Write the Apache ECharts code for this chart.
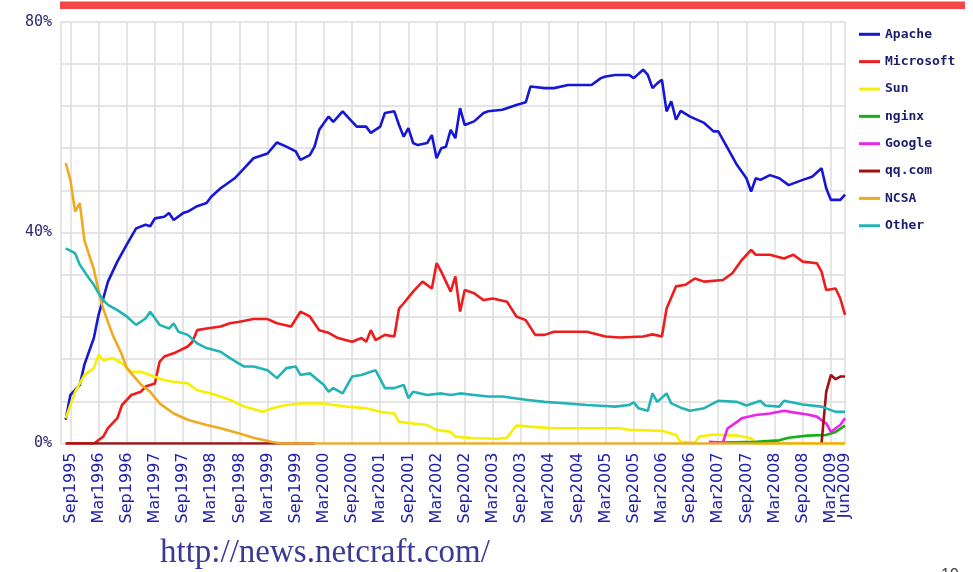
<!DOCTYPE html>
<html><head><meta charset="utf-8">
<script src="https://cdn.jsdelivr.net/npm/echarts@6/dist/echarts.min.js"></script>
<style>html,body{margin:0;padding:0;background:#fff}#c{width:973px;height:572px}</style>
</head><body><div id="c"></div>
<script>
// Months Jul1995 .. Jun2009 (index 0 .. 167)
const monthNames = ['Jan','Feb','Mar','Apr','May','Jun','Jul','Aug','Sep','Oct','Nov','Dec'];
const months = [];
for (let y = 1995; y <= 2009; y++) for (let m = 0; m < 12; m++) {
  if ((y === 1995 && m < 6) || (y === 2009 && m > 5)) continue;
  months.push(monthNames[m] + y);
}
const yTickLabels = {0: '0%', 40: '40%', 80: '80%'};
const seriesNames = ['Apache','Microsoft','Sun','nginx','Google','qq.com','NCSA','Other'];
const seriesColors = ['#1616d6','#ee1c1c','#f6f000','#14b014','#ee22ee','#a01010','#f0aa20','#22b4b4'];

// [monthIndex, percent]
const apache = [[1,4.5],[2,9.2],[4,11.1],[5,15],[7,20],[8,24.4],[9,27.5],[10,30.7],[12,34.5],[14,37.7],[16,40.8],[18,41.5],[19,41.2],[20,42.7],[22,43],[23,43.7],[24,42.4],[26,43.7],[27,44],[29,45],[31,45.6],[32,46.8],[34,48.4],[37,50.3],[39,52.2],[41,54.1],[44,55],[46,57.1],[48,56.3],[50,55.4],[51,53.8],[53,54.7],[54,56.3],[55,59.5],[57,62],[58,61],[60,63],[61,62],[63,60.1],[65,60.1],[66,58.9],[68,60.1],[69,62.7],[71,63],[72,60.4],[73,58.2],[74,59.8],[75,57],[76,56.6],[78,57],[79,58.5],[80,54.1],[81,56],[82,56.3],[83,59.5],[84,57.9],[85,63.6],[86,60.4],[88,61.1],[90,62.7],[91,63],[94,63.3],[97,64.2],[99,64.7],[100,67.7],[103,67.4],[105,67.4],[108,68],[113,68],[115,69.3],[116,69.6],[118,69.9],[121,69.9],[122,69.3],[124,70.9],[125,69.9],[126,67.4],[127,68.3],[128,69],[129,63],[130,64.9],[131,61.4],[132,63.1],[134,62],[137,60.8],[139,59.2],[140,59.2],[142,56],[144,52.8],[146,50.3],[147,47.8],[148,50.3],[149,50],[151,50.9],[153,50.3],[155,49],[158,50],[160,50.6],[162,52.2],[163,48.4],[164,46.2],[166,46.2],[167,47.2]];
const microsoft = [[1,0],[7,0],[9,1.3],[10,2.9],[12,4.8],[13,7.3],[15,9.2],[17,9.8],[18,10.8],[20,11.4],[21,15.5],[22,16.5],[24,17.1],[27,18.4],[28,19.3],[29,21.5],[31,21.8],[34,22.2],[36,22.8],[38,23.1],[41,23.6],[44,23.6],[46,22.8],[49,22.2],[51,25],[53,24.1],[55,21.5],[57,21],[59,20],[62,19.3],[64,20],[65,19.3],[66,21.5],[67,19.6],[69,20.6],[71,20.3],[72,25.6],[73,26.6],[75,28.8],[77,30.7],[79,29.4],[80,34.2],[81,32.6],[83,28.8],[84,31.7],[85,25],[86,29.1],[88,28.5],[90,27.2],[92,27.5],[95,26.9],[97,24.1],[99,23.4],[101,20.6],[103,20.6],[105,21.2],[108,21.2],[112,21.2],[116,20.3],[119,20.1],[124,20.3],[126,20.7],[128,20.3],[129,25.6],[131,29.8],[133,30.1],[135,31.3],[137,30.7],[141,31],[143,32.3],[145,34.8],[147,36.7],[148,35.8],[151,35.8],[154,35.1],[156,35.8],[158,34.5],[161,34.2],[162,32.6],[163,29.1],[165,29.4],[166,27.5],[167,24.4]];
const sun = [[1,4.8],[3,9.8],[5,13],[7,14.3],[8,16.8],[9,15.8],[11,16.2],[13,15.2],[15,13.6],[17,13.6],[19,13],[22,12],[24,11.7],[27,11.4],[29,10.1],[32,9.5],[36,8.3],[39,7],[43,6],[45,6.7],[48,7.3],[51,7.6],[56,7.6],[58,7.3],[61,7],[65,6.7],[68,6],[71,5.7],[72,4.1],[75,3.8],[78,3.5],[80,2.6],[83,2.2],[84,1.3],[88,1],[93,0.9],[95,1.1],[97,3.4],[100,3.2],[105,2.9],[110,2.9],[116,2.9],[119,2.9],[121,2.6],[128,2.4],[131,1.6],[132,0.3],[135,0.2],[136,1.3],[139,1.7],[144,1.5],[147,1],[148,0],[167,0]];
const nginx = [[141,0.2],[148,0.3],[153,0.6],[155,1.1],[159,1.5],[163,1.6],[165,2.2],[167,3.4]];
const google = [[138,0.3],[141,0.2],[142,2.9],[144,4.1],[145,4.8],[148,5.4],[151,5.7],[154,6.2],[156,5.9],[159,5.5],[161,5.1],[163,3.8],[164,2.2],[165,2.9],[166,3.5],[167,4.8]];
const qqcom = [[1,0],[54,0],[100,null],[162,0],[163,9.8],[164,13],[165,12.2],[166,12.7],[167,12.7]];
const ncsa = [[1,53.2],[2,50],[3,44],[4,45.6],[5,38.5],[7,33],[8,29],[9,25.5],[11,20.6],[13,16.8],[14,14.3],[17,11.2],[19,9.8],[21,7.6],[24,5.7],[27,4.5],[31,3.5],[34,2.9],[38,1.9],[41,1.1],[45,0.3],[47,0],[167,0]];
const other = [[1,37],[3,36.1],[4,33.9],[6,31.3],[7,30.1],[8,28.5],[9,27.2],[10,26.3],[12,25.3],[14,24.1],[16,22.5],[18,23.7],[19,25],[21,22.5],[23,21.8],[24,22.8],[25,21.2],[27,20.6],[29,19],[31,18.1],[34,17.4],[36,16.2],[39,14.6],[41,14.6],[44,13.9],[46,12.4],[48,14.3],[50,14.6],[51,13],[53,13.3],[56,11.1],[57,9.8],[58,10.5],[60,9.5],[62,12.7],[64,13],[66,13.6],[67,13.9],[69,10.5],[71,10.5],[73,11.1],[74,8.6],[75,9.8],[78,9.2],[81,9.5],[83,9.2],[85,9.5],[88,9.2],[91,8.9],[94,8.9],[99,8.3],[103,7.9],[108,7.6],[112,7.3],[116,7.1],[118,7],[121,7.3],[122,7.8],[123,6.7],[125,6.2],[126,9.5],[127,7.9],[129,9.5],[130,7.6],[132,6.8],[134,6.2],[137,6.7],[140,8.1],[144,7.9],[146,7.2],[149,8.1],[150,7.2],[153,7],[154,8.1],[158,7.4],[162,7],[165,6],[167,6]];

const allData = [apache, microsoft, sun, nginx, google, qqcom, ncsa, other];
const lastIdx = months.length - 1;
const isTickMonth = (i) => i === 0 || i === lastIdx || months[i].startsWith('Sep') || months[i].startsWith('Mar');
const isLabelMonth = (i) => months[i].startsWith('Sep') || months[i].startsWith('Mar');
const labelStyle = {rotate: 90, margin: 9, hideOverlap: false, showMinLabel: true, showMaxLabel: true,
  fontFamily: 'DejaVu Sans', fontSize: 16, color: '#2020a8'};

const chart = echarts.init(document.getElementById('c'), null, {renderer: 'canvas'});
chart.setOption({
  animation: false,
  backgroundColor: '#fff',
  grid: {left: 61, top: 21.7, width: 784, height: 421.8, containLabel: false},
  legend: {
    orient: 'vertical', left: 854, top: 22.3, itemWidth: 21, itemHeight: 3, itemGap: 13.35,
    icon: 'rect',
    data: seriesNames,
    textStyle: {fontFamily: 'DejaVu Sans Mono', fontSize: 13, fontWeight: 'bold', color: '#1c1c6e', lineHeight: 14}
  },
  xAxis: [{
    type: 'category', data: months, boundaryGap: false, position: 'bottom',
    axisLine: {show: false}, axisTick: {show: false},
    axisLabel: Object.assign({interval: (i) => isLabelMonth(i)}, labelStyle),
    splitLine: {show: true, interval: (i) => isTickMonth(i), lineStyle: {color: '#dcdcdc', width: 1.5}}
  }, {
    type: 'category', data: months, boundaryGap: false, position: 'bottom',
    axisLine: {show: false}, axisTick: {show: false}, splitLine: {show: false},
    axisLabel: Object.assign({interval: (i) => i === lastIdx}, labelStyle)
  }],
  yAxis: {
    type: 'value', min: 0, max: 80, interval: 8,
    axisLine: {show: false}, axisTick: {show: false},
    axisLabel: {formatter: (v) => yTickLabels[v] || '', margin: 9,
      fontFamily: 'DejaVu Sans Mono', fontSize: 15, color: '#2a2a70'},
    splitLine: {lineStyle: {color: '#dcdcdc', width: 1.5}}
  },
  series: seriesNames.map((n, k) => ({
    name: n, type: 'line', xAxisIndex: 0, data: allData[k], symbol: 'none', connectNulls: false,
    lineStyle: {width: 2.6, color: seriesColors[k]}, itemStyle: {color: seriesColors[k]}
  })),
  graphic: [
    {type: 'rect', left: 60, top: 1.5, shape: {width: 905, height: 7.5}, style: {fill: '#f24848'}},
    {type: 'text', left: 160, top: 537, style: {text: 'http://news.netcraft.com/', font: '33px "Liberation Serif"', fill: '#3a3a96'}},
    {type: 'text', left: 941, top: 568, style: {text: '19', font: '16px "Liberation Sans"', fill: '#444'}}
  ]
});
</script></body></html>
